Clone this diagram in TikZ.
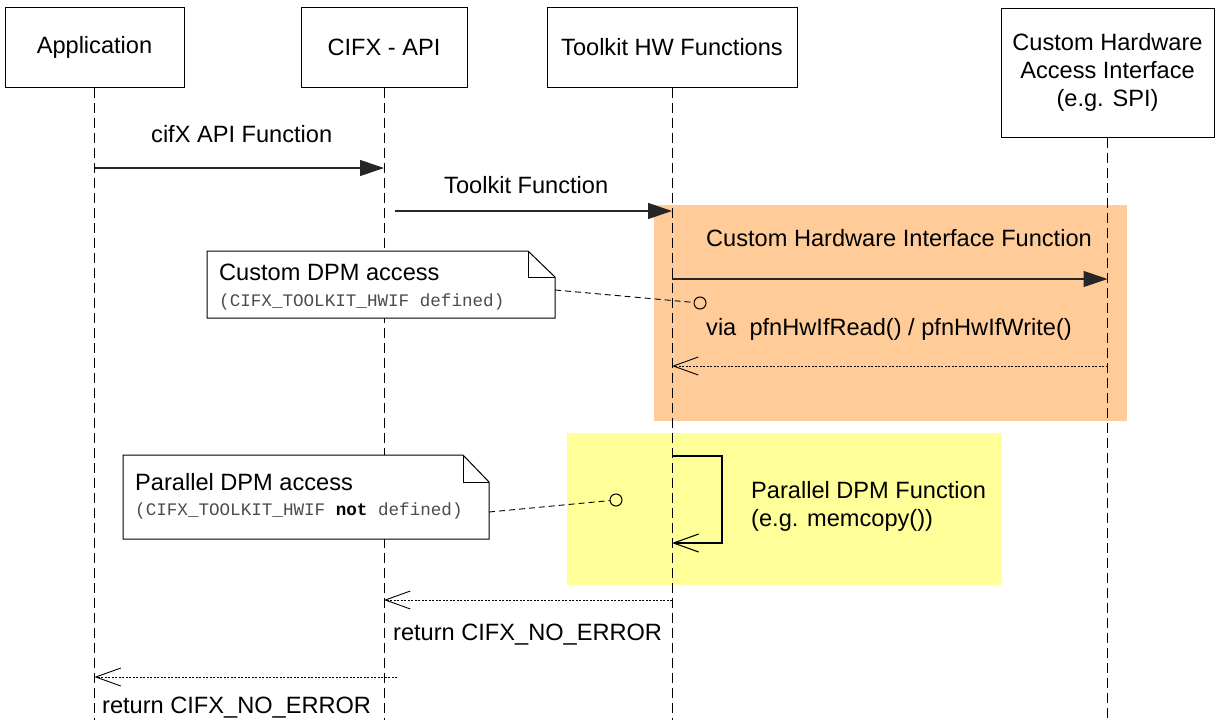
\documentclass[tikz,border=0pt]{standalone}
\usepackage{fontspec}
\setmainfont{Liberation Sans}
\setmonofont{Liberation Mono}
\usetikzlibrary{arrows.meta}
\definecolor{orangebg}{HTML}{FFCC99}
\definecolor{yellowbg}{HTML}{FFFF99}
\tikzset{
  actor/.style={draw, line width=1pt, fill=white, inner sep=0pt, align=center,
    font=\fontsize{23.6}{28}\selectfont},
  lbl/.style={inner sep=0pt, anchor=base west, font=\fontsize{23.6}{28}\selectfont},
  monolbl/.style={inner sep=0pt, anchor=base west, text=black!70, font=\fontsize{17.6}{20}\ttfamily},
  lifeline/.style={line width=0.9pt, dash pattern=on 10pt off 5pt},
  msg/.style={line width=1.1pt, draw=black!85, -{Triangle[length=24pt,width=16pt]}},
  ret/.style={line width=0.9pt, dash pattern=on 2pt off 1.5pt,
    -{Straight Barb[length=25pt,width=18pt]}},
  selfmsg/.style={line width=1.1pt, -{Straight Barb[length=25pt,width=18pt]}},
  notebox/.style={draw, line width=1pt, fill=white},
  notelink/.style={line width=0.9pt, dash pattern=on 6pt off 4pt},
  knob/.style={circle, draw, line width=1pt, minimum size=12pt, inner sep=0pt},
  frag/.style={inner sep=0pt, draw=none}
}
\begin{document}
\begin{tikzpicture}[x=1pt, y=-1pt]
\useasboundingbox (0,0) rectangle (1215,720);

% background fragments
\node[frag, fill=orangebg, minimum width=473pt, minimum height=216pt] (fragA) at (890.5,313) {};
\node[frag, fill=yellowbg, minimum width=435pt, minimum height=152pt] (fragB) at (784.5,509) {};

% actors
\node[actor, minimum width=179pt, minimum height=80pt] (app) at (94.5,47) {Application};
\node[actor, minimum width=166pt, minimum height=80pt] (api) at (384,47) {CIFX - API};
\node[actor, minimum width=250pt, minimum height=80pt] (tk) at (672,47) {Toolkit HW Functions};
\node[actor, minimum width=213pt, minimum height=129pt] (hw) at (1107.5,72.5) {Custom Hardware\\Access Interface\\(e.g. SPI)};

% lifelines
\draw[lifeline] (app.south) -- (app.south |- 0,720);
\draw[lifeline] (api.south) -- (api.south |- 0,720);
\draw[lifeline] (tk.south) -- (tk.south |- 0,720);
\draw[lifeline] (hw.south) -- (hw.south |- 0,720);

% cifX API Function
\coordinate (m1s) at (app.south |- 0,168);
\coordinate (m1e) at (api.south |- 0,168);
\draw[msg] (m1s) -- (m1e);
\node[lbl] (l1) at (151,142) {cifX API Function};

% Toolkit Function
\coordinate (m2s) at (395,211);
\coordinate (m2e) at (tk.south |- 0,211);
\draw[msg] (m2s) -- (m2e);
\node[lbl] (l2) at (444,193) {Toolkit Function};

% Custom Hardware Interface Function
\coordinate (m3s) at (tk.south |- 0,279);
\coordinate (m3e) at (hw.south |- 0,279);
\draw[msg] (m3s) -- (m3e);
\node[lbl] (l3) at (706,246) {Custom Hardware Interface Function};
\node[knob] (c1) at (700,303) {};
\node[lbl] (l4) at (706,335) {via\hspace{0.56em}pfnHwIfRead() / pfnHwIfWrite()};
\coordinate (r1s) at (hw.south |- 0,366);
\coordinate (r1e) at (tk.south |- 0,366);
\draw[ret] (r1s) -- (r1e);

% note 1
\draw[notebox] (207,251) -- (528,251) -- (555,277) -- (555,318) -- (207,318) -- cycle;
\draw[line width=1pt] (528,251) -- (528,277) -- (555,277);
\node[lbl] (n1a) at (219,280) {Custom DPM access};
\node[monolbl] (n1b) at (219,306) {(CIFX\_TOOLKIT\_HWIF defined)};
\coordinate (n1e) at (555,290);
\draw[notelink] (n1e) -- (c1);

% self message
\coordinate (s1) at (tk.south |- 0,456);
\coordinate (s2) at (722,456);
\coordinate (s3) at (722,543);
\coordinate (s4) at (tk.south |- 0,543);
\draw[selfmsg] (s1) -- (s2) -- (s3) -- (s4);
\node[lbl] (l5) at (751,498) {Parallel DPM Function};
\node[lbl] (l6) at (751,526) {(e.g. memcopy())};
\node[knob] (c2) at (616,500) {};

% note 2
\draw[notebox] (123,455) -- (463,455) -- (489,482) -- (489,539) -- (123,539) -- cycle;
\draw[line width=1pt] (463,455) -- (463,482) -- (489,482);
\node[lbl] (n2a) at (135,490) {Parallel DPM access};
\node[monolbl] (n2b) at (135,515) {(CIFX\_TOOLKIT\_HWIF {\color{black}\textbf{not}} defined)};
\coordinate (n2e) at (489,512);
\draw[notelink] (n2e) -- (c2);

% returns
\coordinate (r2s) at (tk.south |- 0,600);
\coordinate (r2e) at (api.south |- 0,600);
\draw[ret] (r2s) -- (r2e);
\node[lbl] (l7) at (393,640) {return CIFX\_NO\_ERROR};
\coordinate (r3s) at (397,677);
\coordinate (r3e) at (app.south |- 0,677);
\draw[ret] (r3s) -- (r3e);
\node[lbl] (l8) at (102,713) {return CIFX\_NO\_ERROR};
\end{tikzpicture}
\end{document}
